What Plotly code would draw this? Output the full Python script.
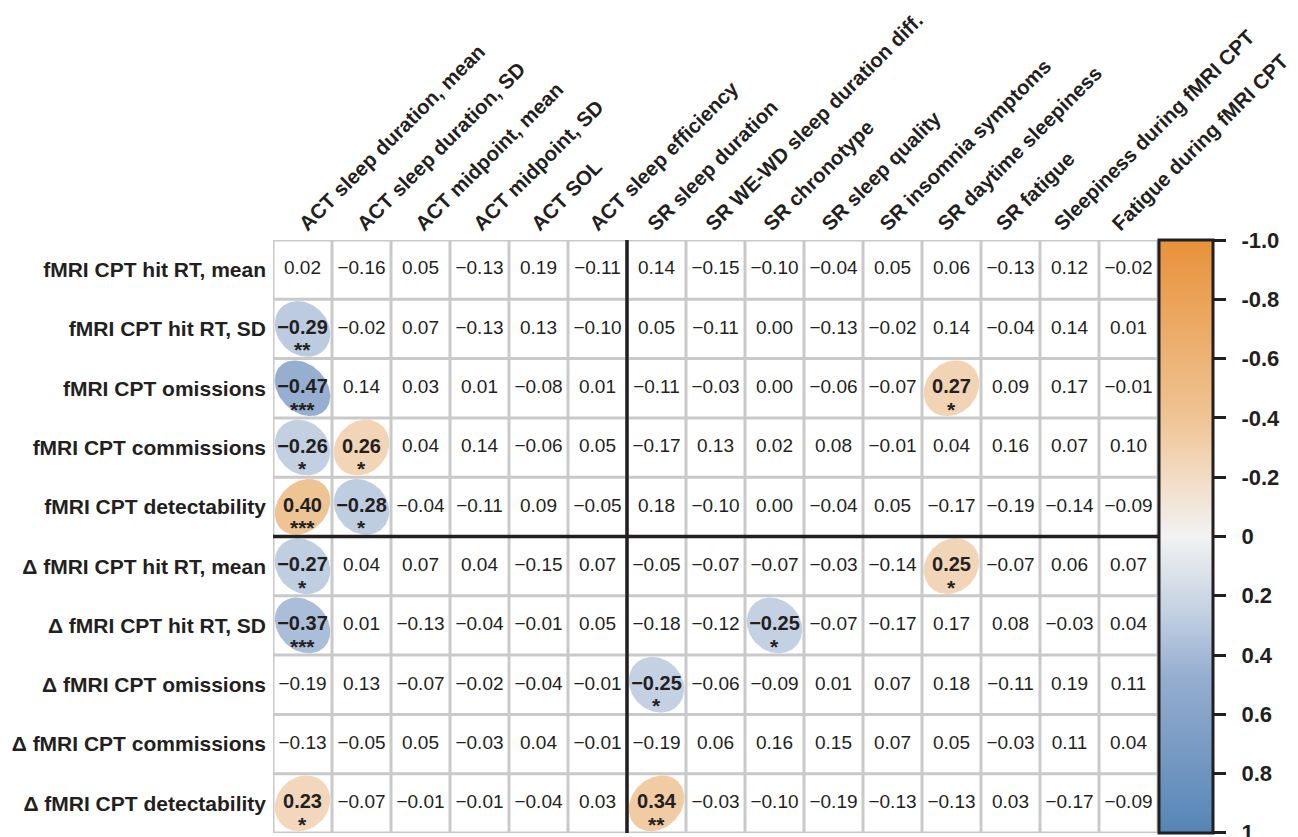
import numpy as np
import plotly.graph_objects as go
from plotly.colors import sample_colorscale

# ---------------- data ----------------
col_labels = [
    "ACT sleep duration, mean", "ACT sleep duration, SD", "ACT midpoint, mean",
    "ACT midpoint, SD", "ACT SOL", "ACT sleep efficiency", "SR sleep duration",
    "SR WE-WD sleep duration diff.", "SR chronotype", "SR sleep quality",
    "SR insomnia symptoms", "SR daytime sleepiness", "SR fatigue",
    "Sleepiness during fMRI CPT", "Fatigue during fMRI CPT",
]
n_act_cols = 6  # ACT block (separator after it)

row_labels = [
    "fMRI CPT hit RT, mean", "fMRI CPT hit RT, SD", "fMRI CPT omissions",
    "fMRI CPT commissions", "fMRI CPT detectability",
    "Δ fMRI CPT hit RT, mean", "Δ fMRI CPT hit RT, SD", "Δ fMRI CPT omissions",
    "Δ fMRI CPT commissions", "Δ fMRI CPT detectability",
]
n_first_rows = 5  # first block (separator after it)

r_hit_rt_mean = [0.02, -0.16, 0.05, -0.13, 0.19, -0.11, 0.14, -0.15, -0.10, -0.04, 0.05, 0.06, -0.13, 0.12, -0.02]
r_hit_rt_sd = [-0.29, -0.02, 0.07, -0.13, 0.13, -0.10, 0.05, -0.11, 0.00, -0.13, -0.02, 0.14, -0.04, 0.14, 0.01]
r_omissions = [-0.47, 0.14, 0.03, 0.01, -0.08, 0.01, -0.11, -0.03, 0.00, -0.06, -0.07, 0.27, 0.09, 0.17, -0.01]
r_commissions = [-0.26, 0.26, 0.04, 0.14, -0.06, 0.05, -0.17, 0.13, 0.02, 0.08, -0.01, 0.04, 0.16, 0.07, 0.10]
r_detectability = [0.40, -0.28, -0.04, -0.11, 0.09, -0.05, 0.18, -0.10, 0.00, -0.04, 0.05, -0.17, -0.19, -0.14, -0.09]
r_d_hit_rt_mean = [-0.27, 0.04, 0.07, 0.04, -0.15, 0.07, -0.05, -0.07, -0.07, -0.03, -0.14, 0.25, -0.07, 0.06, 0.07]
r_d_hit_rt_sd = [-0.37, 0.01, -0.13, -0.04, -0.01, 0.05, -0.18, -0.12, -0.25, -0.07, -0.17, 0.17, 0.08, -0.03, 0.04]
r_d_omissions = [-0.19, 0.13, -0.07, -0.02, -0.04, -0.01, -0.25, -0.06, -0.09, 0.01, 0.07, 0.18, -0.11, 0.19, 0.11]
r_d_commissions = [-0.13, -0.05, 0.05, -0.03, 0.04, -0.01, -0.19, 0.06, 0.16, 0.15, 0.07, 0.05, -0.03, 0.11, 0.04]
r_d_detectability = [0.23, -0.07, -0.01, -0.01, -0.04, 0.03, 0.34, -0.03, -0.10, -0.19, -0.13, -0.13, 0.03, -0.17, -0.09]

# significance stars: (row, col, stars)
significance = [
    (1, 0, "**"), (2, 0, "***"), (2, 11, "*"), (3, 0, "*"), (3, 1, "*"),
    (4, 0, "***"), (4, 1, "*"), (5, 0, "*"), (5, 11, "*"), (6, 0, "***"),
    (6, 8, "*"), (7, 6, "*"), (9, 0, "*"), (9, 6, "**"),
]

cbar_tickvals = [1, 0.8, 0.6, 0.4, 0.2, 0, -0.2, -0.4, -0.6, -0.8, -1]
cbar_ticktext = ["-1.0", "-0.8", "-0.6", "-0.4", "-0.2", "0", "0.2", "0.4", "0.6", "0.8", "1"]

R = [r_hit_rt_mean, r_hit_rt_sd, r_omissions, r_commissions, r_detectability,
     r_d_hit_rt_mean, r_d_hit_rt_sd, r_d_omissions, r_d_commissions, r_d_detectability]

# ---------------- style ----------------
FONT = "Liberation Sans, Arial, Helvetica, sans-serif"
TXT = "#231f20"
GRID = "#c9c9c9"
colorscale = [
    [0.0, "#5585b5"], [0.265, "#96aed0"], [0.37, "#c2d0e2"], [0.5, "#f2f2f2"],
    [0.63, "#f2d4b6"], [0.70, "#efc494"], [1.0, "#e8913a"],
]
C_LIM = 1.0008  # tiny headroom so both end ticks of the colour bar are drawn

# page body adds an 8px offset, so the figure is 8px smaller than the window
W, H = 1290, 829
L, Rm, T, B = 265, 140, 232, 4
n_rows, n_cols = len(R), len(col_labels)

fig = go.Figure()

sig_map = {(i, j): s for i, j, s in significance}

# ellipses for significant correlations (corrplot style)
t = np.linspace(0, 2 * np.pi, 120)
scale = 0.47
shape_k = 0.6
for (i, j), s in sig_map.items():
    r = R[i][j]
    d = np.arccos(r * shape_k)
    ex = j + scale * np.cos(t + d / 2)
    ey = i - scale * np.cos(t - d / 2)
    col = sample_colorscale(colorscale, [(r + 1) / 2])[0]
    fig.add_trace(go.Scatter(x=ex, y=ey, mode="lines", fill="toself",
                             fillcolor=col, line=dict(width=0, color=col),
                             hoverinfo="skip", showlegend=False))

def fmt(v):
    return f"{v:.2f}".replace("-", "\u2212")

xs_n, ys_n, tx_n, xs_s, ys_s, tx_s = [], [], [], [], [], []
for i in range(n_rows):
    for j in range(n_cols):
        if (i, j) in sig_map:
            xs_s.append(j); ys_s.append(i); tx_s.append(f"<b>{fmt(R[i][j])}</b>")
        else:
            xs_n.append(j); ys_n.append(i); tx_n.append(fmt(R[i][j]))

fig.add_trace(go.Scatter(x=xs_n, y=ys_n, text=tx_n, mode="text",
                         textfont=dict(family=FONT, size=19, color=TXT),
                         hoverinfo="skip", showlegend=False))
fig.add_trace(go.Scatter(x=xs_s, y=ys_s, text=tx_s, mode="text",
                         textfont=dict(family=FONT, size=20, color=TXT),
                         hoverinfo="skip", showlegend=False))

# colour bar carrier (also anchors the column-label axis)
flat = [v for row in R for v in row]
flat_x = [j for row in R for j in range(len(row))]
flat_y = [i for i, row in enumerate(R) for _ in row]
fig.add_trace(go.Scatter(
    x=flat_x, y=flat_y, xaxis="x2", yaxis="y", mode="markers",
    marker=dict(size=1, opacity=0, color=flat, colorscale=colorscale,
                cmin=-C_LIM, cmax=C_LIM, showscale=True,
                colorbar=dict(
                    thickness=54, thicknessmode="pixels", len=1, lenmode="fraction",
                    x=1.0, xanchor="left", xref="paper", y=1, yanchor="top", yref="paper",
                    xpad=1, ypad=0, outlinewidth=3, outlinecolor="#231f20",
                    ticks="outside", ticklen=12, tickwidth=3, tickcolor="#231f20",
                    tickvals=cbar_tickvals,
                    ticktext=[f"\u2002<b>{s}</b>" for s in cbar_ticktext],
                    tickfont=dict(family=FONT, size=22, color=TXT),
                    ticklabeloverflow="allow",
                )),
    hoverinfo="skip", showlegend=False))

# stars
for (i, j), s in sig_map.items():
    fig.add_annotation(x=j, y=i, text=f"<b>{s}</b>", showarrow=False, yshift=-21,
                       font=dict(family=FONT, size=21, color=TXT),
                       xanchor="center", yanchor="middle")

# grid
shapes = []
for k in range(n_cols + 1):
    shapes.append(dict(type="line", x0=k - 0.5, x1=k - 0.5, y0=-0.5, y1=n_rows - 0.5,
                       line=dict(color=GRID, width=3), layer="below"))
for k in range(n_rows + 1):
    shapes.append(dict(type="line", x0=-0.5, x1=n_cols - 0.5, y0=k - 0.5, y1=k - 0.5,
                       line=dict(color=GRID, width=3), layer="below"))
shapes.append(dict(type="line", x0=n_act_cols - 0.5, x1=n_act_cols - 0.5, y0=-0.5, y1=n_rows - 0.5,
                   line=dict(color="#231f20", width=3.5), layer="above"))
shapes.append(dict(type="line", x0=-0.5, x1=n_cols - 0.5, y0=n_first_rows - 0.5, y1=n_first_rows - 0.5,
                   line=dict(color="#231f20", width=3.5), layer="above"))

fig.update_layout(
    template="none", width=W, height=H, autosize=False,
    margin=dict(l=L, r=Rm, t=T, b=B, pad=0, autoexpand=False),
    paper_bgcolor="white", plot_bgcolor="white", showlegend=False,
    shapes=shapes,
    xaxis=dict(range=[-0.5, n_cols - 0.5], showticklabels=False, ticks="",
               showgrid=False, zeroline=False, showline=False, automargin=False,
               fixedrange=True),
    # label axis: slightly tighter spacing than the cells, as in the original
    xaxis2=dict(overlaying="x", anchor="y", side="top", range=[-0.47, 14.77],
                tickmode="array", tickvals=list(range(n_cols)),
                ticktext=[f"<b>{c}</b>" for c in col_labels],
                tickangle=-45, ticks="", showgrid=False, zeroline=False, showline=False,
                tickfont=dict(family=FONT, size=20.5, color=TXT), automargin=False,
                ticklabelstandoff=0, ticklabeloverflow="allow", fixedrange=True),
    yaxis=dict(range=[n_rows - 0.5, -0.5], tickmode="array",
               tickvals=list(range(n_rows)), ticktext=[f"<b>{c}</b>" for c in row_labels],
               ticks="", showgrid=False, zeroline=False, showline=False,
               tickfont=dict(family=FONT, size=21, color=TXT), automargin=False,
               ticklabelstandoff=6, ticklabeloverflow="allow", fixedrange=True),
)

fig.write_html("out.html")
